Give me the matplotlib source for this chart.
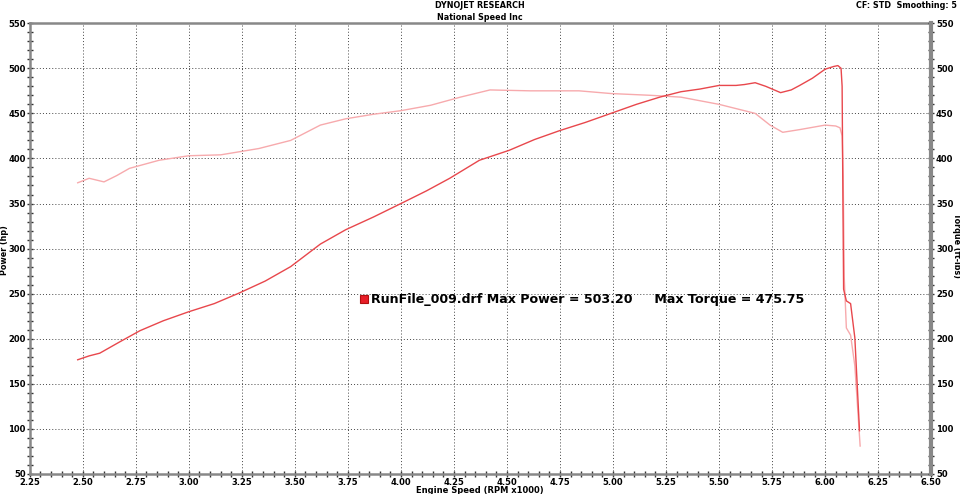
import numpy as np
import matplotlib.pyplot as plt
from matplotlib.ticker import MultipleLocator

# power (hp) vs engine speed (rpm x1000)
rpm_hp = [2.476, 2.53, 2.58, 2.67, 2.77, 2.88, 3.00, 3.12, 3.24, 3.36, 3.48, 3.62, 3.74,
          3.87, 4.00, 4.12, 4.23, 4.37, 4.51, 4.63, 4.75, 4.87, 4.99, 5.11, 5.22, 5.32,
          5.41, 5.50, 5.58, 5.62, 5.67, 5.72, 5.79, 5.84, 5.88, 5.94, 6.00, 6.04, 6.06,
          6.075, 6.08, 6.083, 6.087, 6.10, 6.12, 6.14, 6.162]
hp = [176.7, 181, 184, 196, 209, 220, 230, 239, 251, 264, 280, 305, 321,
      335, 350, 364, 378, 398, 409, 421, 431, 440, 450, 460, 468, 474,
      477, 481, 481, 482, 484, 480, 473, 476, 481, 489, 499, 502, 503,
      500, 480, 380, 255, 242, 239, 201, 98]

# torque (ft-lbs)
rpm_tq = [2.476, 2.53, 2.60, 2.66, 2.72, 2.86, 3.00, 3.15, 3.33, 3.48, 3.62, 3.74,
          3.87, 4.00, 4.14, 4.28, 4.42, 4.61, 4.84, 4.99, 5.18, 5.32, 5.50, 5.67,
          5.74, 5.80, 5.88, 6.00, 6.05, 6.07, 6.08, 6.085, 6.09, 6.10, 6.12, 6.14, 6.165]
tq = [373, 378, 374, 381, 389, 398, 403, 404, 411, 420, 437, 444,
      449, 453, 459, 468, 476, 475, 475, 472, 470, 468, 460, 450,
      437, 429, 432, 437, 436, 434, 425, 380, 268, 212, 204, 170, 81]

x_ticks = np.arange(2.25, 6.51, 0.25)
y_ticks = np.arange(50, 551, 50)

fig = plt.figure(figsize=(9.6, 4.94), dpi=100)
ax = fig.add_axes([0.031, 0.0405, 0.939, 0.9125])
ax.plot(rpm_tq, tq, color='#f7aaad', lw=1.0)
ax.plot(rpm_hp, hp, color='#e8474c', lw=1.0)

ax.set_xlim(2.25, 6.5)
ax.set_ylim(50, 550)
ax.set_xticks(x_ticks)
ax.set_xticklabels(['%.2f' % t for t in x_ticks])
ax.set_yticks(y_ticks)
ax.xaxis.set_minor_locator(MultipleLocator(0.05))
ax.yaxis.set_minor_locator(MultipleLocator(10))
ax.grid(True, which='major', color='#444444', linestyle=(0, (1, 2.2)), lw=0.7)
ax.tick_params(which='both', direction='inout', colors='#333333', labelsize=6, pad=0.5)
ax.tick_params(which='major', length=5, width=1)
ax.tick_params(which='minor', length=4, width=1)
for lab in ax.get_xticklabels() + ax.get_yticklabels():
    lab.set_fontweight('bold')
    lab.set_color('black')
for s in ax.spines.values():
    s.set_color('#888888')
    s.set_linewidth(1.8)

ax2 = ax.twinx()
ax2.set_ylim(50, 550)
ax2.set_yticks(y_ticks)
ax2.yaxis.set_minor_locator(MultipleLocator(10))
ax2.tick_params(which='both', direction='inout', colors='#333333', labelsize=6, pad=1)
ax2.tick_params(which='major', length=5, width=1)
ax2.tick_params(which='minor', length=4, width=1)
for lab in ax2.get_yticklabels():
    lab.set_fontweight('bold')
    lab.set_color('black')
for s in ax2.spines.values():
    s.set_visible(False)
ax2.spines['right'].set_visible(True)
ax2.spines['right'].set_color('#888888')
ax2.spines['right'].set_linewidth(3)

fig.text(0.5, 1 - 490 / 494, 'Engine Speed (RPM x1000)', ha='center', va='center',
         fontsize=6, fontweight='bold')
fig.text(4.5 / 960, 1 - 250 / 494, 'Power (hp)', ha='center', va='center', rotation=90,
         fontsize=5.8, fontweight='bold')
fig.text(956 / 960, 1 - 245 / 494, 'Torque (ft-lbs)', ha='center', va='center', rotation=270,
         fontsize=5.8, fontweight='bold')

fig.text(0.5, 1 - 5 / 494, 'DYNOJET RESEARCH', ha='center', va='center', fontsize=5.8, fontweight='bold')
fig.text(0.5, 1 - 17 / 494, 'National Speed Inc', ha='center', va='center', fontsize=5.8, fontweight='bold')
fig.text(0.997, 1 - 5 / 494, 'CF: STD  Smoothing: 5', ha='right', va='center', fontsize=5.8, fontweight='bold')

ax.plot([3.826], [244], marker='s', ms=6, color='#e81e28', mec='#b01010', mew=0.8)
ax.text(3.86, 243, 'RunFile_009.drf Max Power = 503.20     Max Torque = 475.75',
        fontsize=9.1, fontweight='bold', va='center', ha='left')

fig.savefig('out.png', dpi=100)
